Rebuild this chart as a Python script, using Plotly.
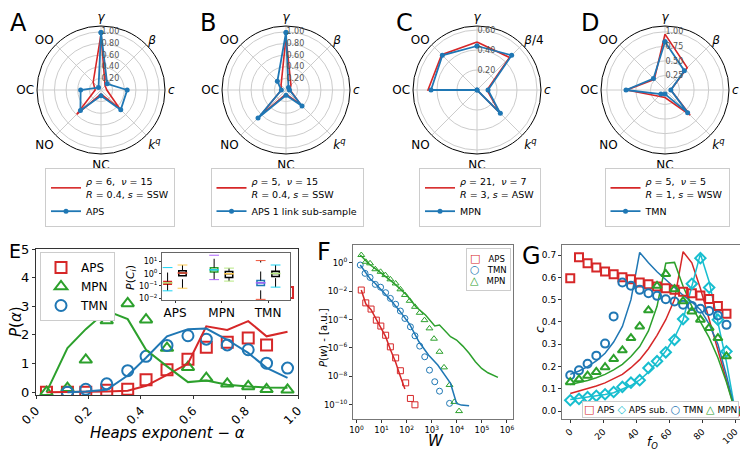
import plotly.graph_objects as go

# the page puts the figure 8 px in from the top-left corner
OFF = 8
FW, FH = 740, 443
RED, BLUE, GREEN, CYAN, ORANGE = '#d62728', '#1f77b4', '#2ca02c', '#17becf', '#ff7f0e'
FONT = 'DejaVu Sans'

# --- radar panels A-D (gamma, beta, c, k^q, NC, NO, OC, OO) ---
cats = ['<i>γ</i>', '<i>β</i>', '<i>c</i>', '<i>k</i><sup><i>q</i></sup>', 'NC', 'NO', 'OC', 'OO']
cats_c = ['<i>γ</i>', '<i>β</i>/4', '<i>c</i>', '<i>k</i><sup><i>q</i></sup>', 'NC', 'NO', 'OC', 'OO']

a_model = [0.96, 0.10, 0.10, 0.46, 0.07, 0.59, 0.10, 0.19]
a_data = [0.99, 0.15, 0.45, 0.48, 0.10, 0.50, 0.35, 0.06]
b_model = [0.91, 0.12, 0.07, 0.36, 0.07, 0.62, 0.08, 0.12]
b_data = [0.99, 0.06, 0.06, 0.39, 0.09, 0.68, 0.08, 0.21]
c_model = [0.48, 0.46, 0.10, 0.32, 0.0, 0.0, 0.49, 0.50]
c_data = [0.44, 0.49, 0.11, 0.33, 0.0, 0.0, 0.46, 0.49]
d_model = [0.96, 0.54, 0.10, 0.61, 0.13, 0.15, 0.66, 0.26]
d_data = [0.83, 0.47, 0.10, 0.55, 0.07, 0.10, 0.67, 0.28]

model_labels = ['<i>ρ</i> = 6,  <i>ν</i> = 15<br><i>R</i> = 0.4, <i>s</i> = SSW',
                '<i>ρ</i> = 5,  <i>ν</i> = 15<br><i>R</i> = 0.4, <i>s</i> = SSW',
                '<i>ρ</i> = 21,  <i>ν</i> = 7<br><i>R</i> = 3, <i>s</i> = ASW',
                '<i>ρ</i> = 5,  <i>ν</i> = 5<br><i>R</i> = 1, <i>s</i> = WSW']
data_labels = ['APS', 'APS 1 link sub-sample', 'MPN', 'TMN']

r_ticks_abd = [0.2, 0.4, 0.6, 0.8, 1.0]
r_text_ab = ['0.20', '0.40', '0.60', '0.80', '1.00']
r_ticks_c = [0.2, 0.4, 0.6]
r_text_c = ['0.20', '0.40', '0.60']
r_ticks_d = [0.25, 0.5, 0.75, 1.0]
r_text_d = ['0.25', '0.50', '0.75', '1.00']

# --- panel E: Heaps exponent distribution ---
alpha = [0.04, 0.12, 0.19, 0.27, 0.35, 0.42, 0.50, 0.58, 0.65, 0.73, 0.81, 0.88, 0.96]
aps_pts = [0.0, 0.0, 0.0, 0.07, 0.10, 0.43, 0.78, 1.15, 1.57, 1.74, 1.89, 1.65, 3.48]
aps_fit = [0.0, 0.0, 0.0, 0.02, 0.05, 0.22, 0.60, 1.00, 2.30, 2.17, 2.48, 1.95, 2.11]
mpn_pts = [0.0, 0.14, 1.13, 2.50, 3.10, 2.53, 1.54, 0.87, 0.49, 0.29, 0.20, 0.10, 0.08]
mpn_fit = [0.0, 1.54, 2.20, 2.84, 2.55, 1.48, 0.90, 0.35, 0.41, 0.26, 0.20, 0.16, 0.15]
tmn_pts = [None, 0.0, 0.10, 0.29, 0.75, 1.25, 1.63, 1.97, 1.85, 1.65, 1.48, 1.01, 0.84]
tmn_fit = [None, 0.0, 0.02, 0.08, 0.58, 1.20, 1.95, 2.20, 2.22, 1.83, 1.37, 0.85, 0.50]

# inset: P(C_i) boxes
box_pos = [0.84, 1.16, 1.84, 2.16, 2.84, 3.16]
box_q1 = [0.14, 0.70, 1.40, 0.50, 0.11, 0.60]
box_med = [0.18, 1.15, 2.10, 1.00, 0.18, 1.05]
box_q3 = [0.23, 1.80, 3.10, 1.50, 0.28, 1.60]
box_lo = [0.04, 0.065, 0.33, 0.25, 0.008, 0.08]
box_hi = [3.2, 5.2, 33.0, 2.9, 12.0, 5.2]
box_col = [RED, 'black', GREEN, 'black', BLUE, 'black']
inset_cats = ['APS', 'MPN', 'TMN']

# --- panel F: weight distributions ---
f_aps_w = [1.55, 2.34, 3.8, 6.17, 9.33, 14.5, 22.4, 36.3, 56.2, 91.2, 141, 214]
f_aps_p = [1.2e-2, 1.5e-3, 5.5e-4, 9.1e-5, 3.5e-5, 7.9e-6, 1.2e-6, 2.0e-7, 2.5e-8, 3.5e-9, 2.8e-10, 1.0e-10]
f_aps_fit_w = [1.55, 2.34, 3.8, 6.17, 9.33, 14.5, 22.4, 36.3, 56.2, 85.0]
f_aps_fit_p = [1.2e-2, 1.3e-3, 5.0e-4, 1.0e-4, 3.2e-5, 6.3e-6, 7.9e-7, 1.0e-7, 1.0e-8, 1.3e-9]
f_tmn_w = [1.41, 2.19, 3.47, 5.62, 9.12, 14.5, 22.4, 36.3, 56.2, 85.1, 141, 214, 331, 525, 813, 1318, 2042, 5129]
f_tmn_p = [0.69, 0.18, 0.093, 0.030, 0.019, 7.8e-3, 3.1e-3, 1.2e-3, 4.0e-4, 1.2e-4, 3.1e-5, 7.2e-6,
           1.35e-6, 2.4e-7, 2.75e-8, 4.2e-9, 9.1e-10, 1.26e-10]
f_tmn_fit_w = [1.41, 2.34, 3.63, 5.62, 10, 23.4, 56.2, 132, 309, 741, 1738, 3090, 5623, 9772, 15136, 30903]
f_tmn_fit_p = [0.69, 0.18, 0.068, 0.035, 0.012, 2.3e-3, 3.5e-4, 4.6e-5, 2.75e-6, 3.2e-7, 6.3e-8, 1.6e-8,
               3.2e-9, 1.26e-10, 9.5e-11, 8.5e-11]
f_mpn_w = [1.55, 2.34, 3.47, 5.62, 9.12, 14.1, 22.4, 36.3, 56.2, 85.1, 132, 214, 331, 513, 813, 1230,
           2042, 3090, 5129, 7943, 12303]
f_mpn_p = [3.5, 1.17, 0.91, 0.35, 0.23, 0.135, 0.068, 0.035, 0.0135, 5.4e-3, 2.1e-3, 7.9e-4, 3.0e-4,
           9.1e-5, 2.4e-5, 4.5e-6, 5.4e-7, 4.3e-8, 2.5e-9, 1.6e-10, 3.6e-11]
f_mpn_fit_w = [1.41, 3.16, 10, 31.6, 100, 234, 562, 1318, 2042, 3090, 5623, 9772, 17378, 30903, 54954,
               97724, 173780, 436516]
f_mpn_fit_p = [3.5, 0.81, 0.18, 0.035, 5.4e-3, 7.9e-4, 2.1e-4, 3.5e-5, 4.1e-5, 1.8e-5, 6.2e-6, 3.6e-6,
               1.35e-6, 4.2e-7, 1.07e-7, 3.6e-8, 1.8e-8, 8.5e-9]
f_xticks = [1, 10, 100, 1e3, 1e4, 1e5, 1e6]
f_xtext = ['10<sup>0</sup>', '10<sup>1</sup>', '10<sup>2</sup>', '10<sup>3</sup>', '10<sup>4</sup>',
           '10<sup>5</sup>', '10<sup>6</sup>']
f_yticks = [1e-10, 1e-8, 1e-6, 1e-4, 1e-2, 1]
f_ytext = ['10<sup>−10</sup>', '10<sup>−8</sup>', '10<sup>−6</sup>', '10<sup>−4</sup>', '10<sup>−2</sup>',
           '10<sup>0</sup>']
in_yticks = [1e-2, 1e-1, 1, 10]
in_ytext = ['10<sup>−2</sup>', '10<sup>−1</sup>', '10<sup>0</sup>', '10<sup>1</sup>']
f_legend = [('□', RED, 'APS'), ('○', BLUE, 'TMN'), ('△', GREEN, 'MPN')]

# --- panel G: clustering vs f_O ---
fo = [0, 5.3, 10.5, 15.8, 21.1, 26.3, 31.6, 36.8, 42.1, 47.4, 52.6, 57.9, 63.2, 68.4, 73.7, 78.9,
      84.2, 89.5, 94.7, 100]
g_aps = [0.596, 0.69, 0.663, 0.644, 0.626, 0.614, 0.60, 0.592, 0.577, 0.569, 0.559, 0.551, 0.544,
         0.535, 0.529, 0.519, 0.503, 0.472, 0.437, 0.0]
g_aps_fit = [0.079, 0.09, 0.10, 0.113, 0.127, 0.145, 0.165, 0.195, 0.231, 0.28, 0.34, 0.41, 0.50,
             0.715, 0.665, 0.55, 0.41, 0.27, 0.13, 0.0]
g_sub = [0.049, 0.055, 0.063, 0.069, 0.076, 0.086, 0.109, 0.128, 0.139, 0.194, 0.224, 0.264, 0.32,
         0.413, 0.571, 0.686, 0.554, 0.41, 0.268, 0.0]
g_sub_fit = [0.052, 0.057, 0.062, 0.068, 0.075, 0.083, 0.098, 0.115, 0.14, 0.175, 0.22, 0.27, 0.33,
             0.41, 0.56, 0.705, 0.58, 0.40, 0.22, 0.0]
g_tmn = [0.161, 0.183, 0.213, 0.249, 0.303, 0.425, 0.577, 0.562, 0.544, 0.529, 0.517, 0.502, 0.492,
         0.477, 0.472, 0.459, 0.449, 0.429, 0.387, 0.0]
g_tmn_fit = [0.165, 0.18, 0.20, 0.225, 0.26, 0.31, 0.38, 0.50, 0.712, 0.665, 0.625, 0.59, 0.555,
             0.52, 0.49, 0.455, 0.39, 0.30, 0.16, 0.0]
g_mpn = [0.13, 0.143, 0.159, 0.176, 0.197, 0.234, 0.273, 0.328, 0.38, 0.452, 0.562, 0.615, 0.547,
         0.493, 0.447, 0.41, 0.373, 0.328, 0.246, 0.0]
g_mpn_fit = [0.12, 0.128, 0.138, 0.15, 0.165, 0.185, 0.21, 0.245, 0.29, 0.36, 0.47, 0.663, 0.667,
             0.56, 0.47, 0.40, 0.33, 0.24, 0.13, 0.0]
g_legend = [('□', RED, 'APS'), ('◇', CYAN, 'APS sub.'), ('○', BLUE, 'TMN'), ('△', GREEN, 'MPN')]


def fx(x):
    return (x - OFF) / FW


def fy(y):
    return 1 - (y - OFF) / FH


def px_x(a, b):
    return [fx(a), fx(b)]


def px_y(top, bottom):
    return [fy(bottom), fy(top)]


fig = go.Figure()

# ===== radars =====
radars = [(a_model, a_data, cats, px_x(37, 165), [0, 1.1], r_ticks_abd, r_text_ab),
          (b_model, b_data, cats, px_x(222, 350), [0, 1.1], r_ticks_abd, r_text_ab),
          (c_model, c_data, cats_c, px_x(413, 541), [0, 0.64], r_ticks_c, r_text_c),
          (d_model, d_data, cats, px_x(601, 729), [0, 1.1], r_ticks_d, r_text_d)]
legend_cx = [110, 287, 480, 667]
for i, (mod, dat, th, dx, rng, tv, tt) in enumerate(radars):
    pk = 'polar' if i == 0 else f'polar{i + 1}'
    lg = f'legend{i + 1}' if i else 'legend'
    fig.add_trace(go.Scatterpolar(r=mod + mod[:1], theta=th + th[:1], mode='lines',
                                  line=dict(color=RED, width=1.6), name=model_labels[i],
                                  subplot=pk, legend=lg))
    fig.add_trace(go.Scatterpolar(r=dat + dat[:1], theta=th + th[:1], mode='lines+markers',
                                  line=dict(color=BLUE, width=1.8), marker=dict(size=5, color=BLUE),
                                  name=data_labels[i], subplot=pk, legend=lg))
    fig.update_layout({pk: dict(
        domain=dict(x=dx, y=px_y(26, 154)), bgcolor='white',
        angularaxis=dict(direction='clockwise', rotation=90, showline=True, linecolor='black',
                         linewidth=1, gridcolor='#cccccc', ticks='',
                         tickfont=dict(size=12, color='black', family=FONT)),
        radialaxis=dict(range=rng, tickvals=tv, ticktext=tt, angle=90, tickangle=90, showline=False,
                        gridcolor='#cccccc', ticks='', tickfont=dict(size=8, color='#555'))),
        lg: dict(x=fx(legend_cx[i]), y=fy(168), xanchor='center', yanchor='top',
                 bgcolor='white', bordercolor='#cccccc', borderwidth=1,
                 font=dict(size=9.5, family=FONT), itemwidth=30, tracegroupgap=0)})

# ===== panel E =====
for y, col, sym, nm in [(aps_pts, RED, 'square-open', 'APS'), (mpn_pts, GREEN, 'triangle-up-open', 'MPN'),
                        (tmn_pts, BLUE, 'circle-open', 'TMN')]:
    fig.add_trace(go.Scatter(x=alpha, y=y, mode='markers', name=nm, legend='legend5',
                             marker=dict(symbol=sym, size=11, color=col, line=dict(width=2, color=col)),
                             xaxis='x', yaxis='y'))
for y, col in [(aps_fit, RED), (mpn_fit, GREEN), (tmn_fit, BLUE)]:
    fig.add_trace(go.Scatter(x=alpha, y=y, mode='lines', line=dict(color=col, width=2),
                             showlegend=False, xaxis='x', yaxis='y'))

# inset boxes
for i in range(len(box_pos)):
    fig.add_trace(go.Scatter(x=[box_pos[i], box_pos[i], None, box_pos[i], box_pos[i]],
                             y=[box_lo[i], box_q1[i], None, box_q3[i], box_hi[i]], mode='lines',
                             line=dict(color='black', width=1, dash='dash'), showlegend=False,
                             xaxis='x4', yaxis='y4'))
    fig.add_trace(go.Scatter(x=[box_pos[i], box_pos[i]], y=[box_lo[i], box_hi[i]], mode='markers',
                             marker=dict(symbol='line-ew-open', size=7, line=dict(color='black', width=1)),
                             showlegend=False, xaxis='x4', yaxis='y4'))
    fig.add_trace(go.Box(x=[box_pos[i]], q1=[box_q1[i]], median=[box_med[i]], q3=[box_q3[i]],
                         lowerfence=[box_q1[i]], upperfence=[box_q3[i]], width=0.16, whiskerwidth=0,
                         fillcolor='white', line=dict(color=box_col[i], width=1.5),
                         showlegend=False, xaxis='x4', yaxis='y4', hoverinfo='skip'))
    fig.add_trace(go.Scatter(x=[box_pos[i]], y=[box_med[i]], mode='markers',
                             marker=dict(symbol='line-ew-open', size=7, line=dict(color=ORANGE, width=1.5)),
                             showlegend=False, xaxis='x4', yaxis='y4'))

# ===== panel F =====
for x, y, col, sym in [(f_aps_w, f_aps_p, RED, 'square-open'), (f_tmn_w, f_tmn_p, BLUE, 'circle-open'),
                       (f_mpn_w, f_mpn_p, GREEN, 'triangle-up-open')]:
    fig.add_trace(go.Scatter(x=x, y=y, mode='markers', showlegend=False,
                             marker=dict(symbol=sym, size=6, color=col, line=dict(width=1, color=col)),
                             xaxis='x2', yaxis='y2'))
for x, y, col in [(f_aps_fit_w, f_aps_fit_p, RED), (f_tmn_fit_w, f_tmn_fit_p, BLUE),
                  (f_mpn_fit_w, f_mpn_fit_p, GREEN)]:
    fig.add_trace(go.Scatter(x=x, y=y, mode='lines', line=dict(color=col, width=1.5),
                             showlegend=False, xaxis='x2', yaxis='y2'))

# ===== panel G =====
for y, col in [(g_aps_fit, RED), (g_sub_fit, CYAN), (g_tmn_fit, BLUE), (g_mpn_fit, GREEN)]:
    fig.add_trace(go.Scatter(x=fo, y=y, mode='lines', line=dict(color=col, width=1.5),
                             showlegend=False, xaxis='x3', yaxis='y3'))
for y, col, sym in [(g_aps, RED, 'square-open'), (g_sub, CYAN, 'diamond-open'),
                    (g_tmn, BLUE, 'circle-open'), (g_mpn, GREEN, 'triangle-up-open')]:
    fig.add_trace(go.Scatter(x=fo, y=y, mode='markers', showlegend=False,
                             marker=dict(symbol=sym, size=8, color=col, line=dict(width=2, color=col)),
                             xaxis='x3', yaxis='y3'))


def frame(**kw):
    d = dict(showline=True, linecolor='#333', linewidth=1, mirror=True, ticks='outside', ticklen=3,
             tickcolor='#333', showgrid=False, zeroline=False, automargin=False)
    d.update(kw)
    return d


fig.update_layout(
    width=FW, height=FH, margin=dict(l=0, r=0, t=0, b=0, autoexpand=False), autosize=False,
    paper_bgcolor='white', plot_bgcolor='white', font=dict(family=FONT, color='black'),
    xaxis=frame(domain=px_x(36, 298), range=[0, 1], tickvals=[0, 0.2, 0.4, 0.6, 0.8, 1.0],
                ticktext=['0.0', '0.2', '0.4', '0.6', '0.8', '1.0'], tickangle=-45,
                tickfont=dict(size=12), anchor='y'),
    yaxis=frame(domain=px_y(249, 395), range=[-0.1, 5], tickvals=[0, 1, 2, 3, 4, 5],
                tickfont=dict(size=13), anchor='x'),
    xaxis4=frame(domain=px_x(162, 290), range=[0.72, 3.47], tickvals=[1, 2, 3], ticktext=inset_cats,
                 tickfont=dict(size=12), anchor='y4', linecolor='#666', ticklen=2),
    yaxis4=frame(domain=px_y(253, 300), type='log', range=[-2.15, 1.7], tickvals=in_yticks,
                 ticktext=in_ytext, tickfont=dict(size=8), anchor='x4', linecolor='#666', ticklen=2),
    xaxis2=frame(domain=px_x(353, 513), type='log', range=[-0.14, 6.24], tickvals=f_xticks,
                 ticktext=f_xtext, tickfont=dict(size=8.5), anchor='y2', linecolor='#777'),
    yaxis2=frame(domain=px_y(245, 419), type='log', range=[-11, 1.25], tickvals=f_yticks,
                 ticktext=f_ytext, tickfont=dict(size=8.5), anchor='x2', linecolor='#777'),
    xaxis3=frame(domain=px_x(562, 741), range=[-5, 103.5], tickvals=[0, 20, 40, 60, 80, 100],
                 tickangle=-45, tickfont=dict(size=9), anchor='y3', linecolor='#777'),
    yaxis3=frame(domain=px_y(245, 419), range=[-0.035, 0.745],
                 tickvals=[0, 0.1, 0.2, 0.3, 0.4, 0.5, 0.6, 0.7],
                 ticktext=['0.0', '0.1', '0.2', '0.3', '0.4', '0.5', '0.6', '0.7'],
                 tickfont=dict(size=9), anchor='x3', linecolor='#777'),
    legend5=dict(x=fx(40), y=fy(252), xanchor='left', yanchor='top', bgcolor='white',
                 bordercolor='#cccccc', borderwidth=1, font=dict(size=12), itemwidth=30,
                 tracegroupgap=0),
)

# axis titles placed as text (pixel centres from the reference)
axis_titles = [('<i>Heaps exponent − α</i>', 167, 433, 15, 0),
               ('<i>P</i>(<i>α</i>)', 16, 322, 15, -90),
               ('<i>P</i>(<i>C<sub>i</sub></i>)', 131, 278, 11, -90),
               ('<i>W</i>', 436, 441, 15, 0),
               ('<i>P</i>(<i>w</i>) - [a.u.]', 323, 338, 10, -90),
               ('<i>f<sub>O</sub></i>', 652, 443, 12, 0),
               ('<i>c</i>', 540, 330, 12, -90)]
for txt, ax_, ay_, sz, ang in axis_titles:
    fig.add_annotation(text=txt, x=fx(ax_), y=fy(ay_), xref='paper', yref='paper', showarrow=False,
                       xanchor='center', yanchor='middle', textangle=ang,
                       font=dict(size=sz, family=FONT, color='black'))

# legends of F and G as compact text boxes
f_leg_text = '<br>'.join(f'<span style="color:{c}; font-size:11px"><b>{s}</b></span>   {n}'
                         for s, c, n in f_legend)
fig.add_annotation(text=f_leg_text, x=fx(511), y=fy(248), xref='paper', yref='paper',
                   xanchor='right', yanchor='top', align='left', showarrow=False,
                   font=dict(size=8.5, family=FONT), bgcolor='white', bordercolor='#cccccc',
                   borderwidth=1, borderpad=3)
g_leg_text = ' '.join(f'<span style="color:{c}; font-size:11px"><b>{s}</b></span> {n}'
                      for s, c, n in g_legend)
fig.add_annotation(text=g_leg_text, x=fx(739), y=fy(418), xref='paper', yref='paper',
                   xanchor='right', yanchor='bottom', showarrow=False,
                   font=dict(size=9, family=FONT), bgcolor='white', bordercolor='#cccccc',
                   borderwidth=1, borderpad=1)

letters = [('A', 9, 23, 24), ('B', 199, 23, 24), ('C', 395, 23, 24), ('D', 580, 23, 24),
           ('E', 8, 251, 19), ('F', 316, 252, 24), ('G', 521, 256, 24)]
for txt, lx, ly, sz in letters:
    fig.add_annotation(text=txt, x=fx(lx), y=fy(ly), xref='paper', yref='paper',
                       xanchor='left', yanchor='middle', showarrow=False, borderpad=0,
                       font=dict(size=sz, family=FONT, color='black'))

fig.write_html('out.html')
